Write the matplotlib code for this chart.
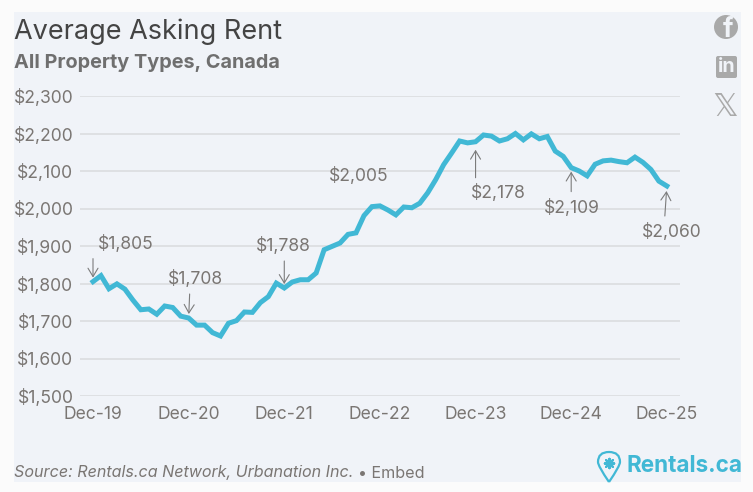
import matplotlib
matplotlib.use("Agg")
import matplotlib.pyplot as plt
from matplotlib.patches import Circle, FancyBboxPatch, PathPatch, Rectangle
from matplotlib.path import Path

W, H = 753, 492

# monthly asking rent, Dec-19 to Dec-25
rent = [1805, 1821, 1786, 1799, 1785, 1756, 1730, 1732, 1718, 1740, 1736, 1713,
        1708, 1689, 1689, 1669, 1660, 1694, 1701, 1724, 1723, 1749, 1765, 1801,
        1788, 1804, 1810, 1810, 1828, 1890, 1899, 1908, 1931, 1935, 1981, 2005,
        2007, 1996, 1983, 2004, 2002, 2014, 2042, 2077, 2117, 2148, 2180, 2175,
        2178, 2196, 2193, 2180, 2186, 2200, 2183, 2199, 2186, 2192, 2153, 2139,
        2109, 2100, 2087, 2118, 2127, 2129, 2125, 2122, 2137, 2123, 2104, 2073,
        2060]
y_ticks = [1500, 1600, 1700, 1800, 1900, 2000, 2100, 2200, 2300]
x_labels = ["Dec-19", "Dec-20", "Dec-21", "Dec-22", "Dec-23", "Dec-24", "Dec-25"]
x_pos = [0, 12, 24, 36, 48, 60, 72]

BLUE = "#41B8D5"
GREY = "#7A7673"
ICON = "#A9A9A9"
PANEL = "#F0F3F8"

plt.rcParams["font.family"] = ["Inter", "DejaVu Sans"]

fig = plt.figure(figsize=(W / 100, H / 100), dpi=100, facecolor="#FBFBFB")


def px_axes(x0, y0, x1, y1):
    return fig.add_axes([x0 / W, 1 - y1 / H, (x1 - x0) / W, (y1 - y0) / H])


# full figure overlay in pixel coords, for panel, icons and logo
bg = px_axes(0, 0, W, H)
bg.set_xlim(0, W)
bg.set_ylim(H, 0)
bg.axis("off")
bg.add_patch(Rectangle((14, 12), 727, 470, fc=PANEL, ec="none"))

ax = px_axes(80, 96, 680, 396)
ax.patch.set_alpha(0)
step = 7.97
ax.set_xlim(-13 / step, 587 / step)
ax.set_ylim(1500, 2300)
for s in ax.spines.values():
    s.set_visible(False)
ax.set_yticks(y_ticks)
ax.set_yticklabels([f"${v:,}" for v in y_ticks])
ax.set_xticks(x_pos)
ax.set_xticklabels(x_labels)
ax.tick_params(length=0, labelsize=12.6, labelcolor=GREY)
ax.tick_params(axis="y", pad=4.7)
ax.tick_params(axis="x", pad=7)
ax.grid(axis="y", color="#DDDEE1", lw=1.3)
ax.set_axisbelow(True)
ax.plot(range(len(rent)), rent, color=BLUE, lw=3.6, solid_joinstyle="miter", clip_on=False)


def note(i, text, tx, ty, tail=None, tip=None, ax_dx=0):
    # offsets are screen pixels from the data point
    k = 0.72
    ax.annotate(text, (i, rent[i]), xytext=(tx * k, ty * k), textcoords="offset points",
                ha="center", va="center", fontsize=12.6, color=GREY)
    if tail is not None:
        ax.annotate("", (i, rent[i]), xytext=(ax_dx * k, tail * k), textcoords="offset points",
                    arrowprops=dict(arrowstyle="->,head_length=0.5,head_width=0.3", color="#7C7C7C",
                                    lw=0.8, shrinkA=0, shrinkB=abs(tip) * k, mutation_scale=12))


note(0, "$1,805", 33, 38, 23, 4)
note(12, "$1,708", 7, 39, 24, 4, 1)
note(24, "$1,788", -1, 42, 27, 4)
note(35, "$2,005", -13, 31)
note(48, "$2,178", 23, -51, -36, -8)
note(60, "$2,109", 1, -40, -24, -4)
note(72, "$2,060", 5, -46, -30, -5, -2)

bg.text(14, 31.5, "Average Asking Rent", fontsize=19.5, color="#444444", va="center")
bg.text(14, 63.5, "All Property Types, Canada", fontsize=14.3, color="#6F6F6F", va="center", fontweight="bold")
bg.text(14, 473, "Source: Rentals.ca Network, Urbanation Inc.", fontsize=11.6, color=GREY, va="center",
        style="italic")
bg.text(358, 473, "• Embed", fontsize=11.6, color=GREY, va="center")

# share icons
bg.add_patch(Circle((726, 27), 12, fc=ICON, ec="none"))
bg.text(728, 30, "f", fontsize=19, fontweight="bold", color=PANEL, ha="center", va="center")
bg.add_patch(FancyBboxPatch((716, 56), 21, 22, boxstyle="round,pad=0,rounding_size=2", fc=ICON, ec="none"))
bg.text(726.5, 67, "in", fontsize=14, fontweight="bold", color=PANEL, ha="center", va="center")
bg.text(725, 107, "\U0001D54F", fontsize=23, color=ICON, ha="center", va="center", family="DejaVu Sans")

# logo pin
pin = Path([(609, 482), (598, 466), (598, 462), (598, 452), (609, 452), (620, 452), (620, 462), (620, 466), (609, 482)],
           [Path.MOVETO, Path.CURVE3, Path.CURVE3, Path.CURVE3, Path.CURVE3, Path.CURVE3, Path.CURVE3, Path.CURVE3, Path.CURVE3])
bg.add_patch(PathPatch(pin, fc="none", ec=BLUE, lw=1.6))
bg.scatter([609], [463], marker=(8, 2, 0), s=45, color=BLUE, lw=1.6)
bg.text(627, 466, "Rentals.ca", fontsize=16.2, fontweight="bold", color=BLUE, va="center")

fig.savefig("out.png", dpi=100, facecolor=fig.get_facecolor())
